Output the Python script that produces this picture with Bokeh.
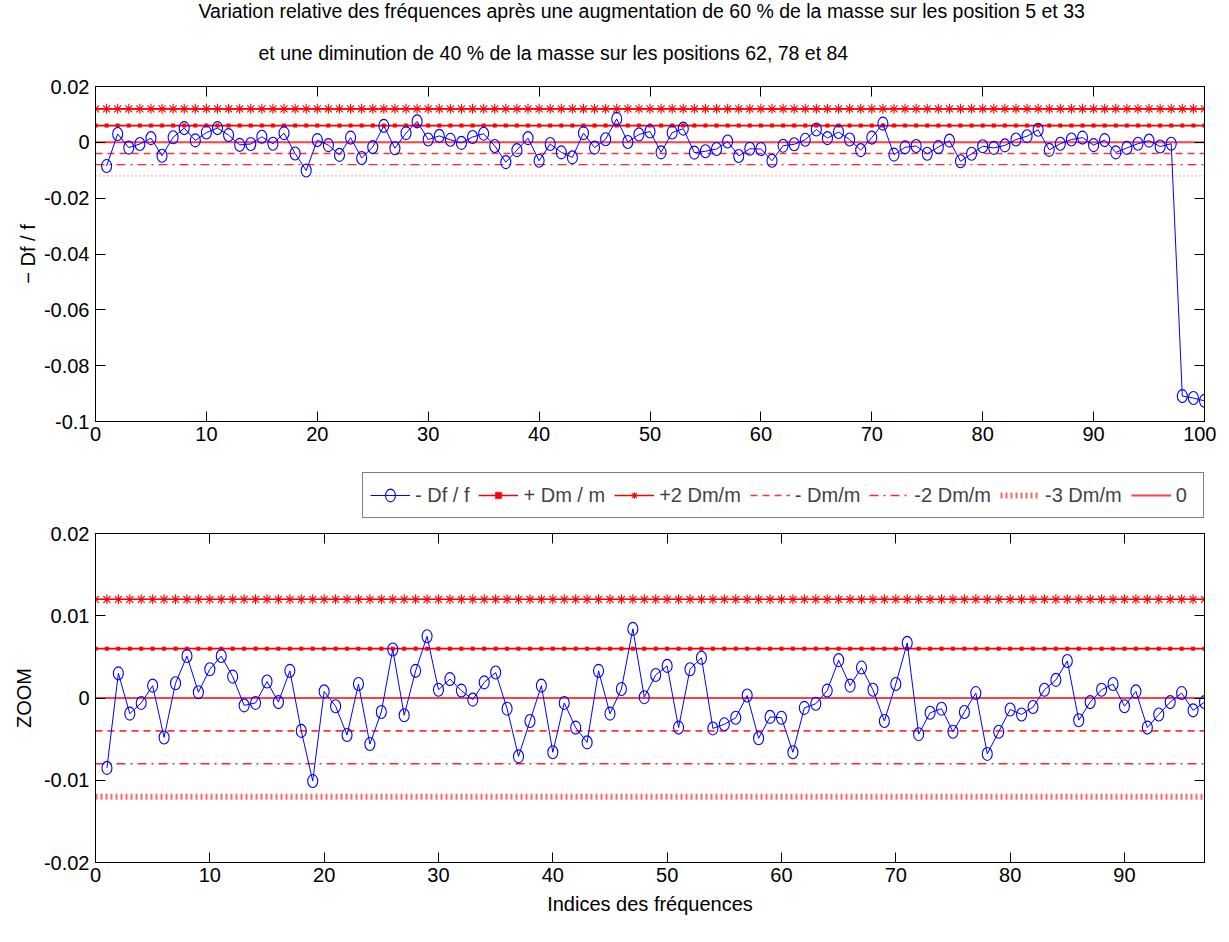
from bokeh.plotting import figure
from bokeh.layouts import column
from bokeh.models import (Range1d, LinearAxis, FixedTicker, CustomJSTickFormatter,
                          Legend, LegendItem, Title)
from bokeh.embed import file_html
from bokeh.resources import INLINE

FONT = "Liberation Sans"

title_line1 = "Variation relative des fréquences après une augmentation de 60 % de la masse sur les position 5 et 33"
title_line2 = "et une diminution de 40 % de la masse sur les positions 62, 78 et 84"

indices = list(range(1, 101))
df_f = [
    -0.0085, 0.0030, -0.0019, -0.0006, 0.0015, -0.0048, 0.0018, 0.0051, 0.0007, 0.0035,
    0.0051, 0.0026, -0.0009, -0.0006, 0.0020, -0.0005, 0.0033, -0.0040, -0.0101, 0.0008,
    -0.0010, -0.0045, 0.0017, -0.0056, -0.0017, 0.0059, -0.0021, 0.0033, 0.0075, 0.0010,
    0.0023, 0.0009, -0.0002, 0.0019, 0.0031, -0.0013, -0.0071, -0.0028, 0.0015, -0.0066,
    -0.0006, -0.0036, -0.0054, 0.0033, -0.0019, 0.0011, 0.0084, 0.0001, 0.0028, 0.0039,
    -0.0036, 0.0035, 0.0049, -0.0037, -0.0032, -0.0024, 0.0003, -0.0049, -0.0023, -0.0024,
    -0.0066, -0.0012, -0.0007, 0.0009, 0.0046, 0.0015, 0.0037, 0.0010, -0.0028, 0.0017,
    0.0067, -0.0044, -0.0018, -0.0013, -0.0041, -0.0017, 0.0006, -0.0068, -0.0041, -0.0014,
    -0.0020, -0.0011, 0.0010, 0.0022, 0.0045, -0.0027, -0.0005, 0.0010, 0.0017, -0.0010,
    0.0008, -0.0036, -0.0020, -0.0005, 0.0006, -0.0015, -0.0005, -0.0909, -0.0916, -0.0926,
]
zoom_count = 97

data_label = "- Df / f"
level_names = ["+ Dm / m", "+2 Dm/m", "- Dm/m", "-2 Dm/m", "-3 Dm/m", "0"]
level_values = [0.006, 0.012, -0.004, -0.008, -0.012, 0.0]

top_xticks = list(range(0, 101, 10))
top_yticks = [-0.1, -0.08, -0.06, -0.04, -0.02, 0.0, 0.02]
zoom_xticks = list(range(0, 91, 10))
zoom_yticks = [-0.02, -0.01, 0.0, 0.01, 0.02]

RED = "#ff0000"
BLUE = "#0000ff"
TICK_FS = "20px"
LABEL_FS = "20px"
TITLE_FS = "19.5px"


def style(p, xticks, yticks, xlabel, ylabel, ylabel_standoff):
    p.grid.visible = False
    p.outline_line_color = "black"
    fmt = CustomJSTickFormatter(code="return (Math.round(tick*1000)/1000).toString();")
    empty = CustomJSTickFormatter(code="return '';")
    for ax, ticks in ((p.xaxis[0], xticks), (p.yaxis[0], yticks)):
        ax.ticker = FixedTicker(ticks=ticks)
        ax.formatter = fmt
        ax.major_tick_in = 10
        ax.major_tick_out = 0
        ax.minor_tick_in = 0
        ax.minor_tick_out = 0
        ax.major_label_text_font = FONT
        ax.major_label_text_font_size = TICK_FS
        ax.major_label_text_color = "black"
        ax.axis_line_color = "black"
        ax.major_tick_line_color = "black"
        ax.axis_label_text_font = FONT
        ax.axis_label_text_font_size = LABEL_FS
        ax.axis_label_text_font_style = "normal"
        ax.axis_label_text_color = "black"
    p.xaxis[0].major_label_standoff = 5
    p.yaxis[0].major_label_standoff = 6
    if xlabel:
        p.xaxis[0].axis_label = xlabel
        p.xaxis[0].axis_label_standoff = 8
    p.yaxis[0].axis_label = ylabel
    p.yaxis[0].axis_label_standoff = ylabel_standoff
    for place, ticks in (("right", yticks), ("above", xticks)):
        ax = LinearAxis(ticker=FixedTicker(ticks=ticks), formatter=empty,
                        major_tick_in=10, major_tick_out=0, minor_tick_in=0,
                        minor_tick_out=0, major_label_standoff=0,
                        major_label_text_font_size="1px",
                        axis_line_color="black", major_tick_line_color="black")
        p.add_layout(ax, place)


def draw(p, xs, ys, x_end, fine_dots):
    xr = list(range(0, x_end + 1))
    rends = {}
    for name, v in zip(level_names, level_values):
        yy = [v] * len(xr)
        if name == "+ Dm / m":
            l = p.line(xr, yy, line_color=RED, line_width=1.6)
            m = p.scatter(xr, yy, marker="square", size=3.5, line_color=RED, fill_color=RED,
                          line_width=0.5)
            rends[name] = [l, m]
        elif name == "+2 Dm/m":
            l = p.line(xr, yy, line_color=RED, line_width=1.6)
            m = p.scatter(xr, yy, marker="asterisk", size=10, line_color=RED, line_width=1.1)
            rends[name] = [l, m]
        elif name == "- Dm/m":
            rends[name] = [p.line(xr, yy, line_color=RED, line_width=1.6, line_alpha=0.8,
                                  line_dash="7 5")]
        elif name == "-2 Dm/m":
            rends[name] = [p.line(xr, yy, line_color=RED, line_width=1.4, line_alpha=0.85,
                                  line_dash="9 5 2 5")]
        elif name == "-3 Dm/m":
            if fine_dots:
                rends[name] = [p.line(xr, yy, line_color=RED, line_width=1.4, line_alpha=0.6,
                                      line_dash="1 3")]
            else:
                rends[name] = [p.line(xr, yy, line_color=RED, line_width=6, line_alpha=0.6,
                                      line_dash="2 3", line_cap="butt")]
        else:
            rends[name] = [p.line(xr, yy, line_color=RED, line_width=2, line_alpha=0.75)]
    dl = p.line(xs, ys, line_color=BLUE, line_width=1)
    de = p.ellipse(xs, ys, width=10, height=13, width_units="screen", height_units="screen",
                   line_color=BLUE, line_width=1.1, fill_color=None)
    rends[data_label] = [dl, de]
    return rends


# ---------------- top figure ----------------
p1 = figure(width=1216, height=460, x_range=Range1d(0, 100), y_range=Range1d(-0.1, 0.02),
            output_backend="svg", toolbar_location=None,
            min_border_left=91, min_border_right=12, min_border_top=86, min_border_bottom=39)
style(p1, top_xticks, top_yticks, None, "− Df / f", 2)
draw(p1, indices, df_f, 100, True)

p1.add_layout(Title(text=title_line2, align="left", offset=163, standoff=46,
                    text_font=FONT, text_font_size=TITLE_FS, text_font_style="normal",
                    text_color="black"), "above")
p1.add_layout(Title(text=title_line1, align="left", offset=103, standoff=-10,
                    text_font=FONT, text_font_size=TITLE_FS, text_font_style="normal",
                    text_color="black"), "above")

# ---------------- legend strip (shared legend) ----------------
pm = figure(width=1216, height=59, x_range=Range1d(1000, 1001), y_range=Range1d(1000, 1001),
            x_axis_type=None, y_axis_type=None, output_backend="svg", toolbar_location=None,
            min_border=0, outline_line_color=None)
pm.grid.visible = False
rm = draw(pm, indices[:zoom_count], df_f[:zoom_count], zoom_count, False)
items = [LegendItem(label=data_label, renderers=rm[data_label])]
for name in level_names:
    items.append(LegendItem(label=name, renderers=rm[name]))
legend = Legend(items=items, orientation="horizontal", location=(267, 1),
                margin=0, padding=7, spacing=9, glyph_width=40, glyph_height=16,
                label_height=30, label_standoff=5,
                label_text_font=FONT, label_text_font_size=LABEL_FS,
                border_line_color="black", border_line_width=1,
                background_fill_color="white", background_fill_alpha=1)
pm.add_layout(legend)

# ---------------- zoom figure ----------------
p2 = figure(width=1216, height=421, x_range=Range1d(0, zoom_count), y_range=Range1d(-0.02, 0.02),
            output_backend="svg", toolbar_location=None,
            min_border_left=95, min_border_right=8, min_border_top=14, min_border_bottom=78)
style(p2, zoom_xticks, zoom_yticks, "Indices des fréquences", "ZOOM", 6)
draw(p2, indices[:zoom_count], df_f[:zoom_count], zoom_count, False)

layout = column(p1, pm, p2, spacing=0)
open("out.html", "w").write(file_html(layout, INLINE))
